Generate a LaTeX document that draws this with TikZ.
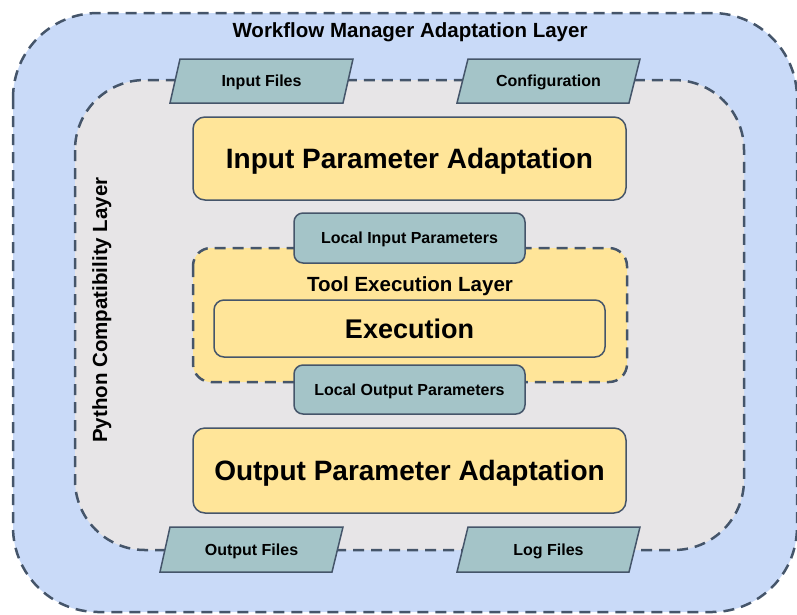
\documentclass[tikz,border=0pt]{standalone}
\usepackage{fontspec}
\setmainfont{Liberation Sans}
\definecolor{outerblue}{HTML}{C9DAF8}
\definecolor{innergray}{HTML}{E7E5E7}
\definecolor{boxyellow}{HTML}{FFE599}
\definecolor{fileteal}{HTML}{A4C4C8}
\definecolor{edgec}{HTML}{45556A}
\tikzset{
  layerline/.style={draw=edgec, line width=2.5pt, dash pattern=on 11pt off 7pt},
  bigbox/.style={draw=edgec, line width=1.5pt, fill=boxyellow, rounded corners=12pt, inner sep=0pt,
    font=\fontsize{28}{32}\selectfont\bfseries, text height=20pt, text depth=0pt},
  execbox/.style={draw=edgec, line width=1.5pt, fill=boxyellow, rounded corners=10pt, inner sep=0pt,
    font=\fontsize{27}{31}\selectfont\bfseries, text height=19.3pt, text depth=0pt},
  parambox/.style={draw=edgec, line width=1.5pt, fill=fileteal, rounded corners=9pt, inner sep=0pt,
    font=\fontsize{16}{19}\selectfont\bfseries, text height=11.5pt, text depth=0pt},
  filetext/.style={inner sep=0pt, font=\fontsize{16}{19}\selectfont\bfseries, text height=11.5pt, text depth=0pt},
  fileshape/.style={draw=edgec, line width=1.5pt, fill=fileteal, line join=miter},
  layertitle/.style={inner sep=0pt, anchor=base, font=\fontsize{20.5}{24}\selectfont\bfseries}
}
\begin{document}
\begin{tikzpicture}[x=1pt,y=-1pt]
\useasboundingbox (0,0) rectangle (797,614);
% outer layer
\path[fill=outerblue, rounded corners=85pt] (13,13) rectangle (797,612);
\draw[layerline, rounded corners=85pt] (13,13) rectangle (797,612);
\node[layertitle] (wmtitle) at (410,37) {Workflow Manager Adaptation Layer};
% inner layer
\path[fill=innergray, rounded corners=70pt] (75,80) rectangle (744,550);
\draw[layerline, rounded corners=70pt] (75,80) rectangle (744,550);
\node[layertitle, rotate=90] (pytitle) at (107,310) {Python Compatibility Layer};
% files (parallelograms)
\draw[fileshape] (180,59) -- (353,59) -- (343,103) -- (170,103) -- cycle;
\node[filetext] (infiles) at (261.5,81) {Input Files};
\draw[fileshape] (468,59) -- (640,59) -- (629,103) -- (457,103) -- cycle;
\node[filetext] (config) at (548.5,81) {Configuration};
\draw[fileshape] (170,527) -- (343,527) -- (332,572) -- (160,572) -- cycle;
\node[filetext] (outfiles) at (251.5,549.5) {Output Files};
\draw[fileshape] (468,527) -- (640,527) -- (629,572) -- (457,572) -- cycle;
\node[filetext] (logfiles) at (548.5,549.5) {Log Files};
% adaptation boxes
\node[bigbox, minimum width=433pt, minimum height=83pt] (ipa) at (409.5,158.5) {Input Parameter Adaptation};
\node[bigbox, minimum width=433pt, minimum height=85pt] (opa) at (409.5,470.5) {Output Parameter Adaptation};
% tool execution layer
\path[fill=boxyellow, rounded corners=18pt] (193,248) rectangle (627,382);
\draw[layerline, rounded corners=18pt] (193,248) rectangle (627,382);
\node[layertitle] (tooltitle) at (410,291) {Tool Execution Layer};
\node[execbox, minimum width=391pt, minimum height=57pt] (exec) at (409.5,328.5) {Execution};
% local parameters
\node[parambox, minimum width=231pt, minimum height=50pt] (lip) at (409.5,238) {Local Input Parameters};
\node[parambox, minimum width=231pt, minimum height=49pt] (lop) at (409.5,389.5) {Local Output Parameters};
\end{tikzpicture}
\end{document}
